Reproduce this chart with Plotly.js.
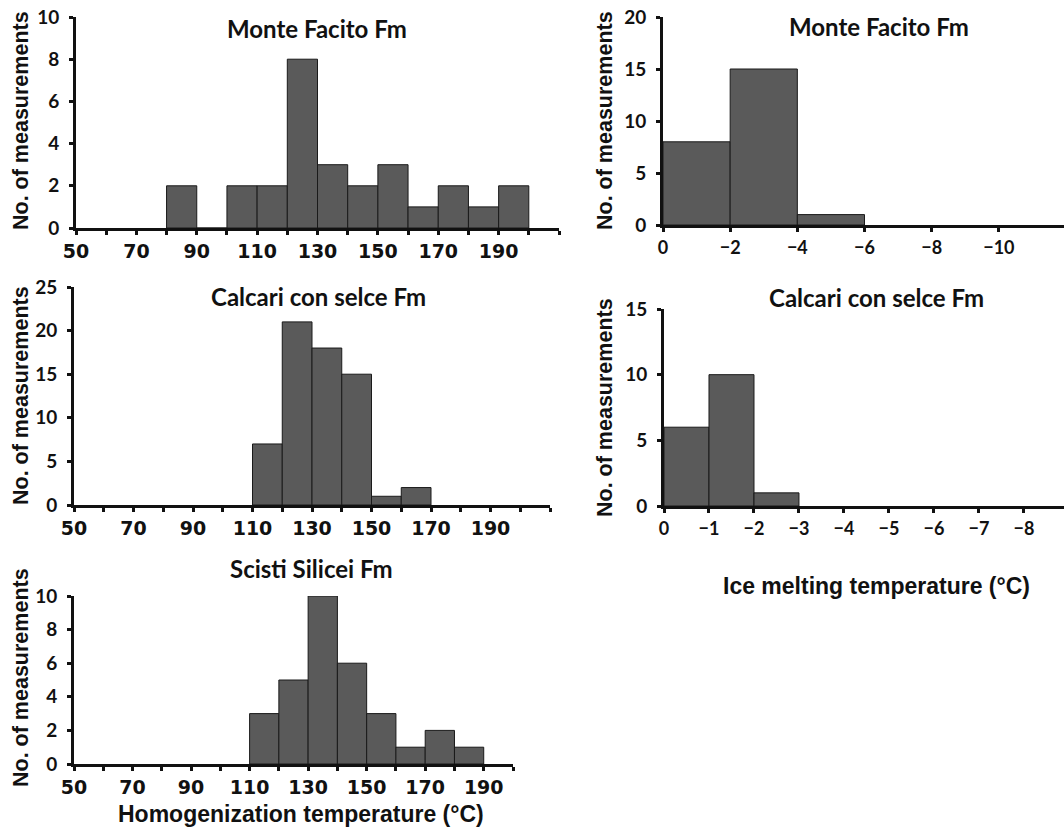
<!DOCTYPE html>
<html>
<head>
<meta charset="utf-8">
<script src="https://cdn.plot.ly/plotly-3.0.1.min.js"></script>
<style>html,body{margin:0;padding:0;background:#fff;}#chart{width:1064px;height:829px;}</style>
</head>
<body>
<div id="chart"></div>
<script>
// ---- data ----
const panelTitles = ["Monte Facito Fm", "Calcari con selce Fm", "Scisti Silicei Fm", "Monte Facito Fm", "Calcari con selce Fm"];
// Homogenization temperature bins (lower edge, °C), 10 °C wide
const mfThBins = [80, 90, 100, 110, 120, 130, 140, 150, 160, 170, 180, 190];
const mfThCounts = [2, 0, 2, 2, 8, 3, 2, 3, 1, 2, 1, 2];
const ccsThBins = [110, 120, 130, 140, 150, 160];
const ccsThCounts = [7, 21, 18, 15, 1, 2];
const ssThBins = [110, 120, 130, 140, 150, 160, 170, 180];
const ssThCounts = [3, 5, 10, 6, 3, 1, 2, 1];
// Ice melting temperature bins (warm edge, °C)
const mfTmBins = [0, -2, -4];
const mfTmCounts = [8, 15, 1];
const ccsTmBins = [0, -1, -2];
const ccsTmCounts = [6, 10, 1];
// tick labels
const thTickVals = [50, 60, 70, 80, 90, 100, 110, 120, 130, 140, 150, 160, 170, 180, 190, 200, 210];
const thTickLabels = ["50", "", "70", "", "90", "", "110", "", "130", "", "150", "", "170", "", "190", "", ""];
const mfTmTickVals = [0, -2, -4, -6, -8, -10];
const ccsTmTickVals = [0, -1, -2, -3, -4, -5, -6, -7, -8];

const W = 1064, H = 829;
const fx = (a, b) => [a / W, b / W];
const fy = (top, bottom) => [1 - bottom / H, 1 - top / H];
const barColor = "#5a5a5a";

function bars(bins, counts, width, dir, xa, ya) {
  return {
    type: "bar",
    x: bins.map(b => b + dir * width / 2),
    y: counts,
    width: bins.map(() => width),
    marker: {color: barColor, line: {color: "#1a1a1a", width: 1}},
    xaxis: xa, yaxis: ya, showlegend: false, hoverinfo: "x+y"
  };
}

const traces = [
  bars(mfThBins, mfThCounts, 10, 1, "x", "y"),
  bars(ccsThBins, ccsThCounts, 10, 1, "x2", "y2"),
  bars(ssThBins, ssThCounts, 10, 1, "x3", "y3"),
  bars(mfTmBins, mfTmCounts, 2, -1, "x4", "y4"),
  bars(ccsTmBins, ccsTmCounts, 1, -1, "x5", "y5")
];

const tickFontL = {family: "DejaVu Sans", size: 19, color: "#111", weight: "bold"};
const tickFontC = {family: "Lato", size: 19, color: "#111", weight: "bold"};
const tickFontR = {family: "Lato", size: 18, color: "#111", weight: "bold"};

function xAx(dom, range, vals, texts, font, anchor) {
  return {
    domain: dom, range: range, anchor: anchor, showgrid: false, zeroline: false,
    showline: true, linecolor: "#111", linewidth: 3,
    ticks: "outside", ticklen: 4, tickwidth: 3, tickcolor: "#111",
    tickmode: "array", tickvals: vals, ticktext: texts, tickfont: font
  };
}
function yAx(dom, range, dtick, anchor) {
  return {
    domain: dom, range: range, anchor: anchor, showgrid: false, zeroline: false,
    showline: true, linecolor: "#111", linewidth: 3,
    ticks: "outside", ticklen: 4, tickwidth: 3, tickcolor: "#111", ticklabelstandoff: 6,
    tickmode: "linear", tick0: 0, dtick: dtick, tickfont: tickFontC
  };
}

const layout = {
  width: W, height: H, margin: {l: 0, r: 0, t: 0, b: 0},
  paper_bgcolor: "#fff", plot_bgcolor: "rgba(0,0,0,0)", bargap: 0,
  xaxis:  xAx(fx(76, 559), [50, 210], thTickVals, thTickLabels, tickFontL, "y"),
  yaxis:  yAx(fy(17, 228), [0, 10], 2, "x"),
  xaxis2: xAx(fx(74, 550), [50, 210], thTickVals, thTickLabels, tickFontL, "y2"),
  yaxis2: yAx(fy(287, 505), [0, 25], 5, "x2"),
  xaxis3: xAx(fx(74, 513), [50, 200], thTickVals.slice(0, 16), thTickLabels.slice(0, 16), tickFontL, "y3"),
  yaxis3: yAx(fy(596, 764), [0, 10], 2, "x3"),
  xaxis4: xAx(fx(663, 1064), [0, -11.94], mfTmTickVals, mfTmTickVals.map(v => v === 0 ? "0" : "\u2212" + Math.abs(v)), tickFontR, "y4"),
  yaxis4: yAx(fy(17, 225), [0, 20], 5, "x4"),
  xaxis5: xAx(fx(664, 1064), [0, -8.89], ccsTmTickVals, ccsTmTickVals.map(v => v === 0 ? "0" : "\u2212" + Math.abs(v)), tickFontR, "y5"),
  yaxis5: yAx(fy(309, 506), [0, 15], 5, "x5"),
  annotations: []
};

const titleFont = {family: "Lato", size: 24, color: "#111", weight: "bold"};
const axTitleFont = {family: "Liberation Sans", size: 21.5, color: "#111", weight: "bold"};
const titlePos = [[317, 28], [318, 296], [311, 568], [879, 27], [876, 297]];
panelTitles.forEach((t, i) => {
  layout.annotations.push({text: t, xref: "paper", yref: "paper", x: titlePos[i][0] / W, y: 1 - titlePos[i][1] / H,
    xanchor: "center", yanchor: "middle", showarrow: false, font: titleFont});
});
const yTitlePos = [[21, 121], [21, 396], [21, 678], [605, 121], [605, 408]];
yTitlePos.forEach(p => {
  layout.annotations.push({text: "No. of measurements", xref: "paper", yref: "paper", x: p[0] / W, y: 1 - p[1] / H,
    xanchor: "center", yanchor: "middle", textangle: -90, showarrow: false, font: axTitleFont});
});
const xTitleFont = {family: "Liberation Sans", size: 23, color: "#111", weight: "bold"};
layout.annotations.push({text: "Homogenization temperature (°C)", xref: "paper", yref: "paper", x: 301 / W, y: 1 - 814 / H,
  xanchor: "center", yanchor: "middle", showarrow: false, font: xTitleFont});
layout.annotations.push({text: "Ice melting temperature (°C)", xref: "paper", yref: "paper", x: 876 / W, y: 1 - 586 / H,
  xanchor: "center", yanchor: "middle", showarrow: false, font: xTitleFont});

Plotly.newPlot("chart", traces, layout, {displayModeBar: false, staticPlot: true});
</script>
</body>
</html>
